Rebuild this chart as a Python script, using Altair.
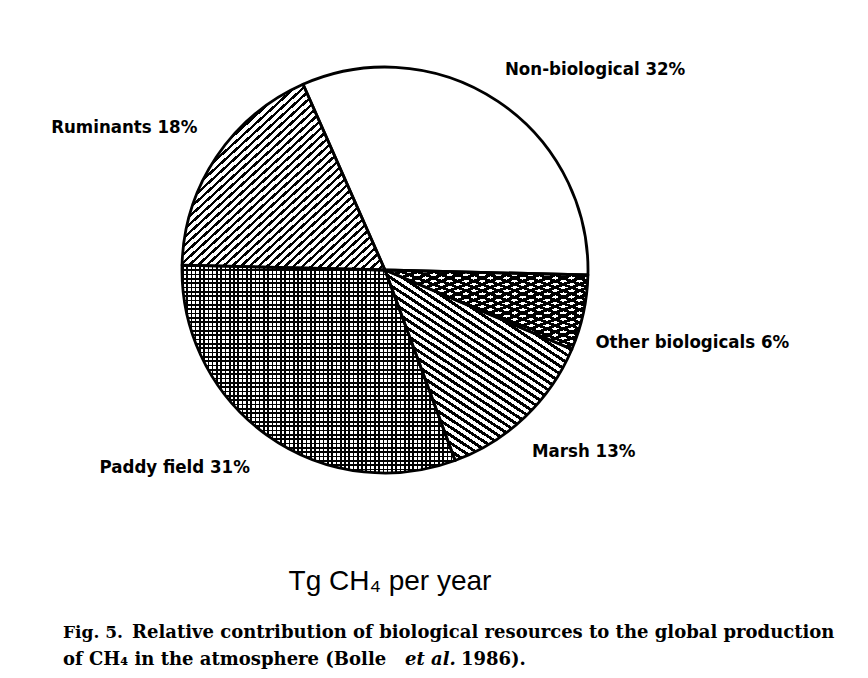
import math
import altair as alt
import pandas as pd

# ---- data ----
categories = ["Non-biological", "Other biologicals", "Marsh", "Paddy field", "Ruminants"]
percent = [32, 6, 13, 31, 18]
labels = ["Non-biological 32%", "Other biologicals 6%", "Marsh 13%", "Paddy field 31%", "Ruminants 18%"]
order_idx = [0, 1, 2, 3, 4]

unit_title = "Tg CH\u2084 per year"
cap_fig = "Fig. 5."
cap_line1 = "Relative contribution of biological resources to the global production"
cap_line2a = "of CH\u2084 in the atmosphere (Bolle"
cap_line2b = "et al."
cap_line2c = "1986)."

df = pd.DataFrame({"cat": categories, "pct": percent, "label": labels, "idx": order_idx})

# ---- layout / style ----
START = math.radians(-23.8)
theta_scale = alt.Scale(domain=[0, 100], range=[START, START + 2 * math.pi])
CX, CY, R = 377, 262, 203
LABEL_FONT = "DejaVu Sans Condensed, DejaVu Sans, sans-serif"
CAP_FONT = "DejaVu Serif, serif"
CLEAR = "rgba(0,0,0,0)"


def stripes(n, dark, light, frac, x1, y1, x2, y2):
    stops = []
    for i in range(n):
        a = round(i / n, 5)
        b = round((i + frac) / n, 5)
        c = round((i + 1) / n, 5)
        stops += [
            alt.GradientStop(color=dark, offset=a),
            alt.GradientStop(color=dark, offset=b),
            alt.GradientStop(color=light, offset=b),
            alt.GradientStop(color=light, offset=c),
        ]
    return alt.LinearGradient(gradient="linear", stops=stops, x1=x1, y1=y1, x2=x2, y2=y2)


fills = {
    "Non-biological": ["white"],
    "Ruminants": [stripes(46, "black", "white", 0.4, 0, 0, 1, 1)],
    "Marsh": [stripes(40, "black", "white", 0.45, 1, 0, 0.246, 1.161)],
    "Paddy field": [
        stripes(64, "black", "white", 0.38, 0, 0, 1, 0),
        stripes(48, "black", CLEAR, 0.38, 0, 0, 0, 1),
    ],
    "Other biologicals": [
        stripes(25, "black", "white", 0.5, 0, 0, 1, 1),
        stripes(25, "black", CLEAR, 0.45, 0, 1, 1, 0),
    ],
}

base = alt.Chart(df).transform_stack(
    stack="pct", groupby=[], as_=["s0", "s1"], sort=[alt.SortField("idx")]
).transform_calculate(mid="(datum.s0 + datum.s1) / 2")

polar = dict(
    theta=alt.Theta("s0:Q", scale=theta_scale),
    theta2="s1:Q",
    x=alt.value(CX),
    y=alt.value(CY),
)

layers = []
for cat in categories:
    for f in fills[cat]:
        layers.append(
            base.transform_filter(alt.datum.cat == cat)
            .mark_arc(fill=f, radius=R, strokeWidth=0)
            .encode(**polar)
        )

outline = base.mark_arc(
    fillOpacity=0, fill="white", stroke="black", strokeWidth=2.8, radius=R, strokeJoin="round"
).encode(**polar)
layers.append(outline)

label_place = {
    "Non-biological": (7, -26, "left"),
    "Other biologicals": (12, 35, "left"),
    "Marsh": (7, 40, "left"),
    "Paddy field": (-17, 38, "right"),
    "Ruminants": (-19, -24, "right"),
}
for cat in categories:
    dx, dy, al = label_place[cat]
    layers.append(
        base.transform_filter(alt.datum.cat == cat)
        .mark_text(
            dx=dx, dy=dy, align=al, baseline="alphabetic",
            font=LABEL_FONT, fontSize=18.5, fontWeight="bold", color="black",
        )
        .encode(
            theta=alt.Theta("mid:Q", scale=theta_scale),
            radius=alt.value(R),
            x=alt.value(CX),
            y=alt.value(CY),
            text="label:N",
        )
    )


def free_text(txt, x, y, **kw):
    return alt.Chart(pd.DataFrame({"t": [txt]})).mark_text(
        align=kw.pop("align", "left"), baseline="alphabetic", color="black", **kw
    ).encode(x=alt.value(x), y=alt.value(y), text="t:N")


layers += [
    free_text(unit_title, 382, 582, align="center", font="Liberation Sans, Arial, sans-serif", fontSize=28),
    free_text(cap_fig, 55, 630, font=CAP_FONT, fontSize=17, fontWeight="bold"),
    free_text(cap_line1, 124, 630, font=CAP_FONT, fontSize=18, fontWeight="bold"),
    free_text(cap_line2a, 55, 657, font=CAP_FONT, fontSize=18, fontWeight="bold"),
    free_text(cap_line2b, 397, 657, font=CAP_FONT, fontSize=18, fontWeight="bold", fontStyle="italic"),
    free_text(cap_line2c, 453, 657, font=CAP_FONT, fontSize=18, fontWeight="bold"),
]

chart = alt.layer(*layers).properties(
    width=852, height=662, autosize=alt.AutoSizeParams(type="none"), padding=0,
    background="white",
).configure_view(stroke="transparent")

chart.save("out.html", embed_options={"renderer": "svg", "actions": False})
